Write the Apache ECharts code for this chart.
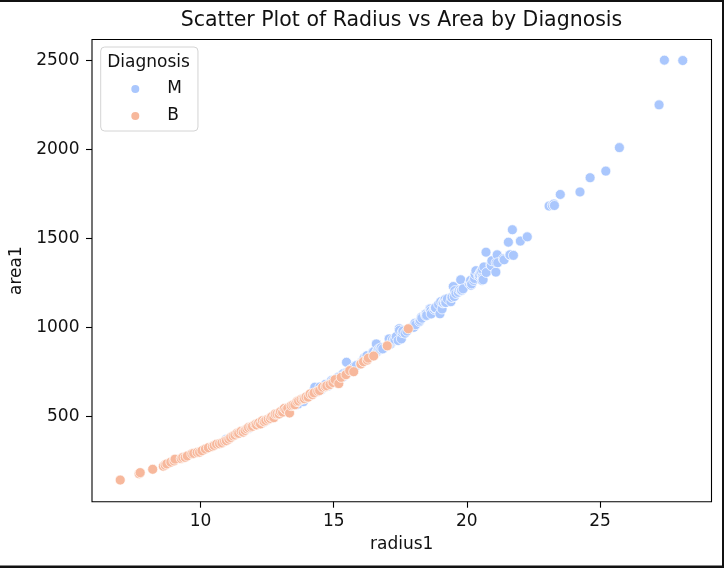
<!DOCTYPE html>
<html>
<head>
<meta charset="utf-8">
<script src="https://cdn.jsdelivr.net/npm/echarts@6/dist/echarts.min.js"></script>
<style>
html,body{margin:0;padding:0;background:#fff;}
#chart{width:724px;height:568px;}
</style>
</head>
<body>
<div id="chart"></div>
<script>
// ---- data (radius1, area1) ----
const seriesNames = ['M', 'B'];
const xTicks = [10, 15, 20, 25];
const yTicks = [500, 1000, 1500, 2000, 2500];

const malignant = [
[10.95,371],[11.8,432],[12.34,466],[12.46,475],[12.77,505],[13.0,521],[13.17,533],[13.28,547],[13.44,561],[13.61,567],
[13.67,571],[13.8,590],[13.86,584],[14.02,610],[14.23,637],[14.25,646],[14.29,665],[14.42,641],[14.48,666],[14.54,651],
[14.6,662],[14.68,680],[14.78,671],[14.86,688],[14.92,703],[14.97,702],[15.04,697],[15.1,712],[15.17,721],[15.22,706],
[15.28,729],[15.34,722],[15.36,740],[15.42,736],[15.48,805],[15.5,748],[15.61,760],[15.66,766],[15.75,773],[15.78,782],
[15.85,786],[16.02,797],[16.07,807],[16.11,814],[16.13,826],[16.16,830],[16.24,836],[16.25,842],[16.46,858],[16.5,864],
[16.6,908],[16.61,861],[16.65,870],[16.69,880],[16.74,878],[16.78,886],[16.84,880],[17.01,898],[17.05,905],[17.08,936],
[17.14,907],[17.19,918],[17.2,931],[17.27,928],[17.3,933],[17.35,949],[17.42,927],[17.46,993],[17.47,984],[17.54,936],
[17.57,972],[17.6,980],[17.68,968],[17.75,980],[17.93,1000],[17.98,1006],[18.01,1001],[18.05,1024],[18.08,1016],[18.22,1033],
[18.25,1041],[18.29,1058],[18.31,1052],[18.45,1075],[18.46,1066],[18.48,1077],[18.49,1068],[18.61,1105],[18.63,1104],[18.65,1094],
[18.66,1076],[18.77,1102],[18.8,1111],[18.81,1110],[18.82,1111],[18.94,1130],[18.99,1077],[19.02,1145],[19.07,1104],[19.1,1138],
[19.11,1142],[19.17,1152],[19.18,1157],[19.19,1142],[19.21,1140],[19.27,1161],[19.4,1145],[19.43,1170],[19.44,1169],[19.49,1230],
[19.53,1174],[19.55,1207],[19.59,1191],[19.68,1198],[19.73,1211],[19.77,1268],[19.79,1207],[19.8,1210],[19.86,1217],[20.09,1247],
[20.13,1261],[20.14,1264],[20.16,1237],[20.18,1245],[20.26,1264],[20.29,1275],[20.31,1299],[20.34,1319],[20.44,1293],[20.47,1286],
[20.48,1297],[20.51,1311],[20.55,1316],[20.57,1264],[20.58,1285],[20.59,1326],[20.6,1276],[20.61,1268],[20.64,1340],[20.72,1423],
[20.73,1309],[20.9,1352],[20.92,1347],[20.94,1375],[21.09,1311],[21.1,1365],[21.14,1408],[21.16,1364],[21.37,1386],[21.4,1380],
[21.56,1479],[21.61,1407],[21.62,1408],[21.71,1549],[21.75,1405],[22.01,1485],[22.27,1509],[23.09,1682],[23.21,1686],[23.27,1693],
[23.29,1685],[23.51,1747],[24.25,1761],[24.63,1841],[25.22,1878],[25.73,2010],[27.22,2250],[27.42,2501],[28.11,2499]
];

const benign = [
[6.98,143.5],[7.69,178.8],[7.73,185.2],[8.2,203.9],[8.6,221.2],[8.67,227.2],[8.73,234.3],[8.88,244],[9.0,251],[9.04,260.9],
[9.27,264],[9.33,270],[9.42,271],[9.5,278.6],[9.67,290.9],[9.74,293.2],[9.87,298.3],[9.96,300],[10.05,308.3],[10.18,317.5],
[10.29,324.9],[10.44,331.6],[10.51,337.7],[10.6,344.9],[10.71,347.3],[10.8,352],[10.9,361],[10.97,364.4],[11.06,373.1],[11.13,381.9],
[11.22,391],[11.29,396.5],[11.37,406.3],[11.43,405.8],[11.52,417],[11.6,412.6],[11.67,421.7],[11.74,431.1],[11.8,437.9],[11.89,441],
[11.95,445.3],[12.05,455.3],[12.1,453.1],[12.18,464.1],[12.25,458.7],[12.32,475.9],[12.39,471.3],[12.45,478.1],[12.54,485.6],[12.62,489.5],
[12.67,499],[12.75,493.8],[12.8,514],[12.87,514.3],[12.95,514],[13.0,527.2],[13.08,524.9],[13.14,545.2],[13.2,537.9],[13.27,546.4],
[13.34,520],[13.4,561],[13.47,565],[13.54,566.3],[13.62,584.1],[13.68,587.4],[13.77,595.9],[13.85,599.5],[13.9,600],[13.96,609.9],
[14.04,609.1],[14.11,626.7],[14.2,623.1],[14.26,633],[14.4,642],[14.47,646],[14.58,664.7],[14.69,668],[14.74,673],[14.86,680],
[14.97,691],[15.05,707],[15.19,685],[15.28,720],[15.46,735],[15.6,758],[15.75,752],[16.02,795],[16.12,808],[16.26,817],
[16.3,828],[16.5,840],[17.01,897],[17.8,993]
];

const colorM = '#aac7fd';
const colorB = '#f7b89c';
const FONT = 'DejaVu Sans';

const chart = echarts.init(document.getElementById('chart'), null, {renderer: 'canvas'});

const markerStyle = (c) => ({color: c, borderColor: '#ffffff', borderWidth: 0.7, opacity: 1});
const plain = (v) => String(v);

chart.setOption({
  animation: false,
  backgroundColor: '#ffffff',
  textStyle: {fontFamily: FONT},
  grid: {left: 92, right: 12.5, top: 39.5, bottom: 66.3, show: true, borderColor: '#000', borderWidth: 1.1, backgroundColor: 'transparent', containLabel: false, outerBoundsMode: 'none'},
  xAxis: {
    type: 'value', min: 5.92, max: 29.19,
    name: 'radius1', nameLocation: 'middle', nameGap: 34,
    nameTextStyle: {fontFamily: FONT, fontSize: 17, color: '#111'},
    axisLine: {show: false},
    splitLine: {show: false},
    axisTick: {show: true, inside: false, length: 6, lineStyle: {color: '#000', width: 1.1}, customValues: xTicks},
    axisLabel: {fontFamily: FONT, fontSize: 17, color: '#111', margin: 11, customValues: xTicks, formatter: plain}
  },
  yAxis: {
    type: 'value', min: 22, max: 2617,
    name: 'area1', nameLocation: 'middle', nameGap: 63, nameRotate: 90,
    nameTextStyle: {fontFamily: FONT, fontSize: 17, color: '#111'},
    axisLine: {show: false},
    splitLine: {show: false},
    axisTick: {show: true, inside: false, length: 6, lineStyle: {color: '#000', width: 1.1}, customValues: yTicks},
    axisLabel: {fontFamily: FONT, fontSize: 17, color: '#111', margin: 12.5, customValues: yTicks, formatter: plain}
  },
  legend: {
    show: true, orient: 'vertical',
    left: 100.7, top: 47,
    padding: [33.5, 16, 6.5, 28.6],
    backgroundColor: '#fff', borderColor: '#d4d4d4', borderWidth: 1, borderRadius: 4,
    itemWidth: 10, itemHeight: 10, itemGap: 10,
    icon: 'circle',
    data: seriesNames,
    textStyle: {fontFamily: FONT, fontSize: 17, color: '#111', padding: [0, 0, 0, 22]}
  },
  graphic: [
    {type: 'text', x: 401.5, y: 21, z: 100, style: {text: 'Scatter Plot of Radius vs Area by Diagnosis', font: '20.5px "DejaVu Sans"', fill: '#111', align: 'center', verticalAlign: 'middle'}},
    {type: 'text', x: 148.5, y: 63, z: 100, style: {text: 'Diagnosis', font: '17px "DejaVu Sans"', fill: '#111', align: 'center', verticalAlign: 'middle'}},
    {type: 'rect', z: 100, shape: {x: 0, y: 0, width: 724, height: 2}, style: {fill: '#111'}},
    {type: 'rect', z: 100, shape: {x: 722, y: 0, width: 2, height: 568}, style: {fill: '#111'}},
    {type: 'rect', z: 100, shape: {x: 0, y: 565.5, width: 724, height: 2.5}, style: {fill: '#111'}}
  ],
  series: [
    {name: 'M', type: 'scatter', data: malignant, symbol: 'circle', symbolSize: 10, itemStyle: markerStyle(colorM), emphasis: {disabled: true}},
    {name: 'B', type: 'scatter', data: benign, symbol: 'circle', symbolSize: 10, itemStyle: markerStyle(colorB), emphasis: {disabled: true}}
  ]
});
</script>
</body>
</html>
